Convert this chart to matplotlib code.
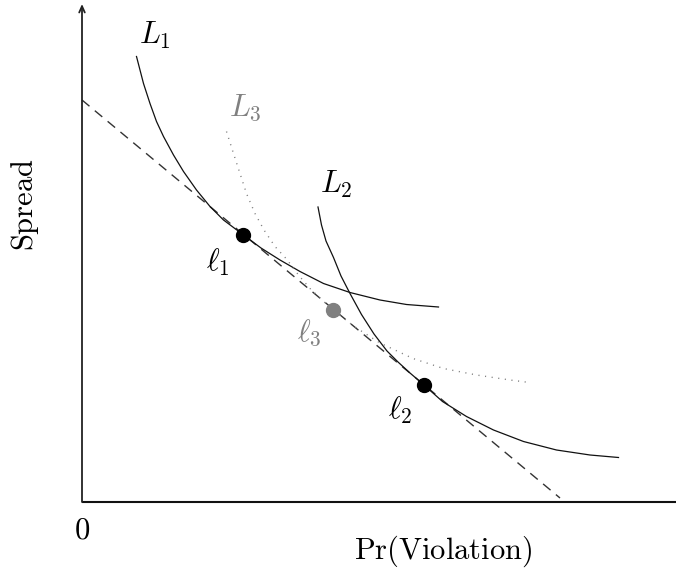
import matplotlib
matplotlib.use("Agg")
import matplotlib.pyplot as plt

plt.rcParams["mathtext.fontset"] = "cm"
plt.rcParams["font.family"] = "serif"

# curve values (x = Pr(Violation), y = Spread)
l1_x = [1.09, 1.23, 1.36, 1.49, 1.63, 1.83, 2.03, 2.29, 2.56, 2.83, 3.23, 3.58,
        3.96, 4.36, 4.83, 5.36, 5.96, 6.49, 7.13]
l1_y = [8.91, 8.37, 7.97, 7.61, 7.31, 6.94, 6.61, 6.24, 5.91, 5.64, 5.34, 5.08,
        4.84, 4.61, 4.37, 4.19, 4.04, 3.95, 3.90]

l2_x = [4.72, 4.79, 4.88, 5.03, 5.18, 5.36, 5.59, 5.84, 6.10, 6.32, 6.56, 6.84,
        7.21, 7.69, 8.23, 8.83, 9.49, 10.16, 10.73]
l2_y = [5.90, 5.54, 5.22, 4.89, 4.52, 4.17, 3.75, 3.36, 3.02, 2.80, 2.58, 2.34,
        2.01, 1.71, 1.44, 1.21, 1.04, 0.94, 0.89]

l3_x = [2.89, 3.03, 3.16, 3.29, 3.46, 3.64, 3.86, 4.09, 4.33, 4.56, 4.78, 5.02,
        5.46, 5.96, 6.62, 7.23, 7.89, 8.56, 8.95]
l3_y = [7.41, 6.97, 6.57, 6.17, 5.77, 5.44, 5.11, 4.86, 4.54, 4.27, 4.06, 3.84,
        3.50, 3.18, 2.87, 2.67, 2.54, 2.44, 2.39]

budget_x = [0.0, 9.56]
budget_y = [8.04, 0.08]

pt_x = [3.23, 6.84]
pt_y = [5.34, 2.34]
pt3_x = [5.02]
pt3_y = [3.84]

x_max = 11.88
y_max = 9.96

GRAY = "#808080"

fig = plt.figure(figsize=(6.76, 5.73), dpi=100)
ax = fig.add_axes([0, 0, 1, 1])
ax.set_xlim(-1.64, 11.88)
ax.set_ylim(-1.42, 10.04)
ax.axis("off")

# axes, arrow on the vertical one
ax.plot([0, x_max], [0, 0], color="#111111", lw=1.5, solid_capstyle="butt")
ax.annotate("", xy=(0, y_max), xytext=(0, 0),
            arrowprops=dict(arrowstyle="->,head_length=0.45,head_width=0.2",
                            color="#222222", lw=1.3, shrinkA=0, shrinkB=0))

ax.plot(budget_x, budget_y, color="#333333", lw=1.0, linestyle=(0, (7, 5)))
ax.plot(l1_x, l1_y, color="#111111", lw=0.9, solid_joinstyle="round")
ax.plot(l2_x, l2_y, color="#111111", lw=0.9, solid_joinstyle="round")
ax.plot(l3_x, l3_y, color=GRAY, lw=1.0, linestyle=(0, (0.8, 4)))

ax.plot(pt_x, pt_y, "o", color="black", ms=10, zorder=5)
ax.plot(pt3_x, pt3_y, "o", color=GRAY, ms=10, zorder=5)

fs = 22
ax.text(1.46, 9.34, r"$L_1$", fontsize=fs, ha="center", va="center")
ax.text(5.08, 6.36, r"$L_2$", fontsize=fs, ha="center", va="center")
ax.text(3.26, 7.88, r"$L_3$", fontsize=fs, ha="center", va="center", color=GRAY)
ax.text(2.72, 4.80, r"$\ell_1$", fontsize=fs, ha="center", va="center")
ax.text(6.36, 1.84, r"$\ell_2$", fontsize=fs, ha="center", va="center")
ax.text(4.54, 3.38, r"$\ell_3$", fontsize=fs, ha="center", va="center", color=GRAY)

ax.text(0, -0.56, r"$0$", fontsize=fs, ha="center", va="center")
ax.text(7.22, -0.98, r"$\mathrm{Pr(Violation)}$", fontsize=fs, ha="center", va="center")
ax.text(-1.14, 5.94, r"$\mathrm{Spread}$", fontsize=fs, ha="center", va="center",
        rotation=90)

fig.savefig("out.png", dpi=100)
